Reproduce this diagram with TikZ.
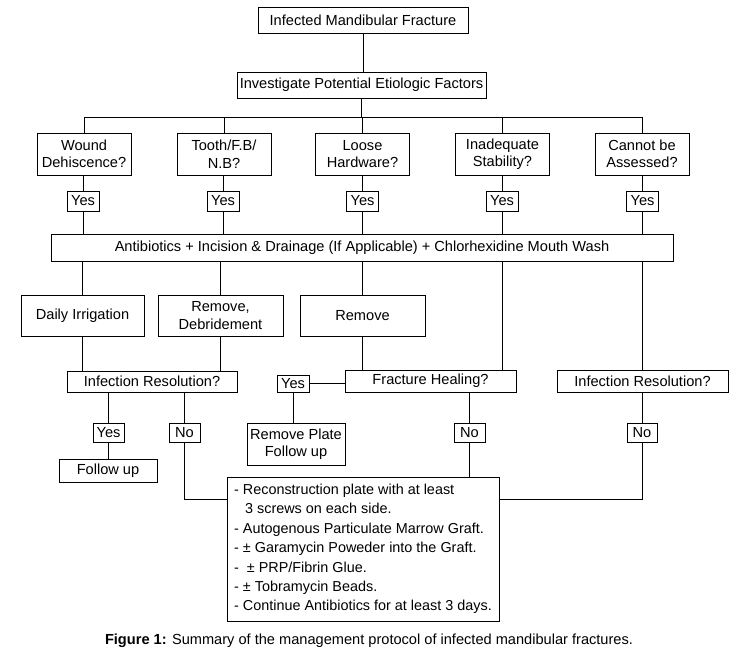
\documentclass[tikz,border=0pt]{standalone}
\usepackage{fontspec}
\setmainfont{Liberation Sans}
\begin{document}
\begin{tikzpicture}[x=1pt,y=-1pt,line width=0.9pt,
  every node/.style={font=\fontsize{14.6}{17.5}\selectfont,text=black},
  box/.style={draw,align=center,inner sep=0pt},
  link/.style={draw,line width=0.9pt}]
\useasboundingbox (0,0) rectangle (737,655);
% top
\node[box,minimum width=210pt,minimum height=26pt] (top) at (363,20) {Infected Mandibular Fracture};
\node[box,minimum width=249pt,minimum height=26pt] (inv) at (361.5,85) {Investigate Potential Etiologic Factors};
\coordinate (hbar) at (362,117);
% questions
\node[box,minimum width=94pt,minimum height=42pt] (q1) at (84,154) {Wound\\Dehiscence?};
\node[box,minimum width=94pt,minimum height=42pt] (q2) at (224,154) {Tooth/F.B/\\N.B?};
\node[box,minimum width=94pt,minimum height=42pt] (q3) at (362.5,154) {Loose\\Hardware?};
\node[box,minimum width=94pt,minimum height=42pt] (q4) at (502.5,154) {Inadequate\\Stability?};
\node[box,minimum width=94pt,minimum height=42pt] (q5) at (642,154) {Cannot be\\Assessed?};
% yes boxes
\node[box,minimum width=32pt,minimum height=20pt] (y1) at (83,201) {Yes};
\node[box,minimum width=32pt,minimum height=20pt] (y2) at (223,201) {Yes};
\node[box,minimum width=32pt,minimum height=20pt] (y3) at (362.5,201) {Yes};
\node[box,minimum width=32pt,minimum height=20pt] (y4) at (502,201) {Yes};
\node[box,minimum width=32pt,minimum height=20pt] (y5) at (642.5,201) {Yes};
% antibiotics
\node[box,minimum width=622pt,minimum height=27pt] (anti) at (362,247.5) {Antibiotics + Incision \& Drainage (If Applicable) + Chlorhexidine Mouth Wash};
% treatments
\node[box,minimum width=123pt,minimum height=41pt] (daily) at (82.5,315.5) {Daily Irrigation};
\node[box,minimum width=125pt,minimum height=41pt] (remdeb) at (220.5,315.5) {Remove,\\Debridement};
\node[box,minimum width=125pt,minimum height=41pt] (remove) at (362.5,315.5) {Remove};
% second level questions
\node[box,minimum width=170pt,minimum height=21pt] (irl) at (152,381.5) {Infection Resolution?};
\node[box,minimum width=171pt,minimum height=22pt] (fh) at (430.5,381) {Fracture Healing?};
\node[box,minimum width=171pt,minimum height=22pt] (irr) at (642.5,381) {Infection Resolution?};
\node[box,minimum width=32pt,minimum height=17pt] (y6) at (293,383.5) {Yes};
\node[box,minimum width=31pt,minimum height=19pt] (y7) at (108.5,432.5) {Yes};
\node[box,minimum width=31pt,minimum height=19pt] (n1) at (184.5,432.5) {No};
\node[box,minimum width=31pt,minimum height=19pt] (n2) at (469.5,432.5) {No};
\node[box,minimum width=30pt,minimum height=19pt] (n3) at (642,432.5) {No};
\node[box,minimum width=98pt,minimum height=23pt] (fu) at (108,470.5) {Follow up};
\node[box,minimum width=98pt,minimum height=42pt] (rp) at (296,444) {Remove Plate\\Follow up};
% reconstruction
\node[box,minimum width=272pt,minimum height=144pt,align=left,
  font=\fontsize{14.4}{19.4}\selectfont] (rec) at (363,549) {%
- Reconstruction plate with at least\\
\hspace*{11pt}3 screws on each side.\\
- Autogenous Particulate Marrow Graft.\\
- ± Garamycin Poweder into the Graft.\\
-\ \ ± PRP/Fibrin Glue.\\
- ± Tobramycin Beads.\\
- Continue Antibiotics for at least 3 days.};
\coordinate (recl) at ([yshift=-23pt]rec.north west);
\coordinate (recr) at ([yshift=-23pt]rec.north east);
% caption
\node (cap) at (369,641) {\textbf{Figure 1:} Summary of the management protocol of infected mandibular fractures.};
% connectors
\draw[link] (top.south) -- (top.south |- inv.north);
\draw[link] (inv.south) -- (inv.south |- hbar);
\draw[link] (q1.north) |- (q5.north |- hbar) -- (q5.north);
\foreach \q in {q2,q3,q4} \draw[link] (\q.north) -- (\q.north |- hbar);
\foreach \q/\y in {q1/y1,q2/y2,q3/y3,q4/y4,q5/y5} {
  \draw[link] (\y.north) -- (\y.north |- \q.south);
  \draw[link] (\y.south) -- (\y.south |- anti.north);
}
\draw[link] (daily.north) -- (daily.north |- anti.south);
\draw[link] (remdeb.north) -- (remdeb.north |- anti.south);
\draw[link] (remove.north) -- (remove.north |- anti.south);
\draw[link] (fh.north -| y4.south) -- (anti.south -| y4.south);
\draw[link] (irr.north) -- (irr.north |- anti.south);
\draw[link] (daily.south) -- (daily.south |- irl.north);
\draw[link] (remdeb.south) -- (remdeb.south |- irl.north);
\draw[link] (remove.south) -- (remove.south |- fh.north);
\draw[link] (y7.north) -- (y7.north |- irl.south);
\draw[link] (y7.south) -- (y7.south |- fu.north);
\draw[link] (n1.north) -- (n1.north |- irl.south);
\draw[link] (n1.south) |- (recl);
\draw[link] (y6.east) -- (y6.east -| fh.west);
\draw[link] (y6.south) -- (y6.south |- rp.north);
\draw[link] (n2.north) -- (n2.north |- fh.south);
\draw[link] (n2.south) -- (n2.south |- rec.north);
\draw[link] (n3.north) -- (n3.north |- irr.south);
\draw[link] (n3.south) |- (recr);
\end{tikzpicture}
\end{document}
